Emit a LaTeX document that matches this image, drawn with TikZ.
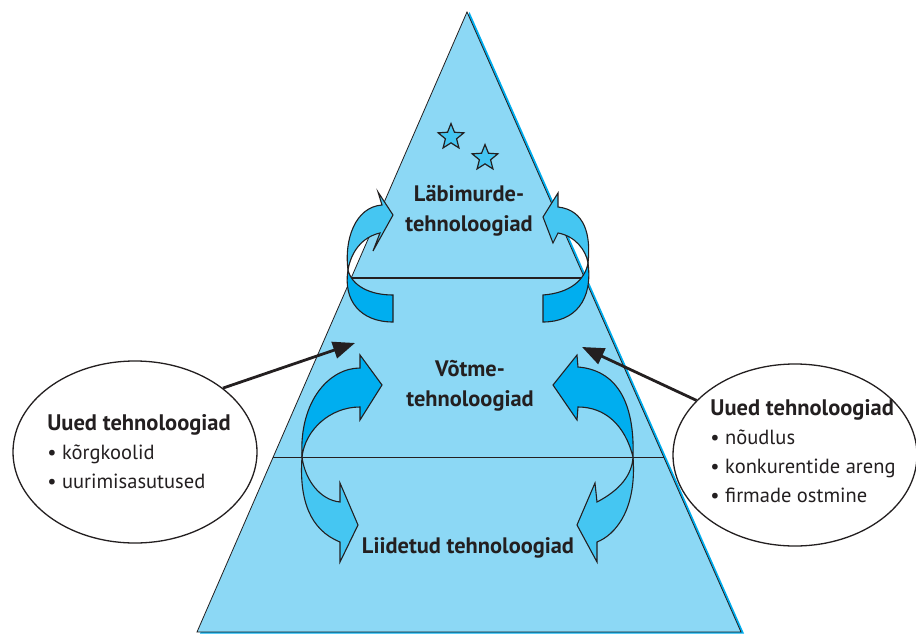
\documentclass[tikz,border=0pt]{standalone}
\usepackage{fontspec}
\setmainfont{PT Sans}
\usetikzlibrary{shapes.geometric,arrows.meta,calc}
\definecolor{pyrfill}{HTML}{8CD8F5}
\definecolor{bandlight}{HTML}{45C6F2}
\definecolor{banddark}{HTML}{00AEEF}
\definecolor{inkgray}{HTML}{231F20}
\newcommand{\bubblehead}[1]{{\bfseries\fontsize{22.5}{29}\selectfont #1}}

\begin{document}
\begin{tikzpicture}
[x=1pt,y=-1pt,
  bubbledecorate/.style={shape=ellipse,draw=inkgray,line width=1.3pt,fill=white,%
    minimum width=244pt,minimum height=182pt,inner sep=0pt},%
  bubbletext/.style={align=left,font=\fontsize{20.5}{29}\selectfont,text=inkgray},%
  leveltext/.style={align=center,font=\bfseries\fontsize{22.4}{29.5}\selectfont,text=inkgray},%
  stardecorate/.style={shape=star,star points=5,star point ratio=2.3,minimum size=27pt,%
    inner sep=0pt,draw=inkgray,line width=1.2pt,fill=bandlight},%
  darkband/.style={fill=banddark,draw=inkgray,line width=1.1pt},%
  lightband/.style={fill=bandlight,draw=inkgray,line width=1.1pt},%
  pointer/.style={draw=inkgray,line width=2.8pt,-{Triangle[length=22pt,width=17pt]}}]
\useasboundingbox (0,0) rectangle (916,634);
%% pyramid
\coordinate (apex) at (467,12);
\coordinate (baseleft) at (197,632);
\coordinate (baseright) at (741,632);
\fill[banddark] ($(apex)+(2.5,0)$) -- ($(baseright)+(3,1.5)$) -- ($(baseleft)+(3,1.5)$) -- cycle;
\filldraw[fill=pyrfill,draw=inkgray,line width=0.8pt] (apex) -- (baseright) -- (baseleft) -- cycle;
\foreach \t in {0.429,0.719}
{
  \draw[inkgray,line width=1.3pt] ($(apex)!\t!(baseleft)$) -- ($(apex)!\t!(baseright)$);
}
%% stars
\foreach \nodename/\x/\y in {starone/451/137, startwo/485/158}
{
  \node (\nodename) at (\x,\y) [stardecorate] {};
}
%% twisted arrows, top
\path[lightband] (348,270) .. controls (344,240) and (355,207) .. (382,205) -- (378,192)
  -- (393,215) -- (373,251) -- (380,233) .. controls (362,237) and (351,252) .. cycle;
\path[darkband] (348,270) .. controls (343,300) and (360,322) .. (393,322) -- (393,295)
  .. controls (370,295) and (352,286) .. cycle;
\path[lightband] (588,263) .. controls (591,235) and (585,210) .. (558,207) -- (558,193)
  -- (543,217) -- (553,243) -- (558,233) .. controls (575,236) and (586,250) .. cycle;
\path[darkband] (588,263) .. controls (593,300) and (575,322) .. (543,322) -- (543,295)
  .. controls (570,293) and (585,280) .. cycle;
%% twisted arrows, bottom
\path[darkband] (302,457) .. controls (299,400) and (330,368) .. (360,368) -- (360,355)
  -- (382,385) -- (360,420) -- (360,407) .. controls (330,407) and (305,430) .. cycle;
\path[lightband] (302,457) .. controls (305,480) and (320,500) .. (340,502) -- (340,483)
  -- (358,525) -- (340,562) -- (340,542) .. controls (310,530) and (299,500) .. cycle;
\path[darkband] (633,457) .. controls (635,400) and (615,370) .. (578,367) -- (577,355)
  -- (553,385) -- (577,420) -- (578,407) .. controls (605,407) and (625,425) .. cycle;
\path[lightband] (633,457) .. controls (637,510) and (615,535) .. (597,542) -- (597,562)
  -- (577,525) -- (595,483) -- (597,502) .. controls (620,490) and (632,475) .. cycle;
%% level names
\node (toplevel) at (469,211) [leveltext] {Läbimurde-\\tehnoloogiad};
\node (midlevel) at (470,386) [leveltext] {Võtme-\\tehnoloogiad};
\node (baselevel) at (468,548) [leveltext] {Liidetud tehnoloogiad};
%% sources
\node (leftbubble) at (135,452) [bubbledecorate] {};
\node (rightbubble) at (795,455) [bubbledecorate] {};
\node (lefttext) at (139,452) [bubbletext]
  {\bubblehead{Uued tehnoloogiad}\\\textbullet\ kõrgkoolid\\\textbullet\ uurimisasutused};
\node (righttext) at (803,451) [bubbletext]
  {\bubblehead{Uued tehnoloogiad}\\\textbullet\ nõudlus\\\textbullet\ konkurentide areng\\\textbullet\ firmade ostmine};
\coordinate (leftaim) at (355,343);
\coordinate (rightaim) at (582,347);
\draw[pointer] (leftbubble.36) -- (leftaim);
\draw[pointer] (rightbubble.151) -- (rightaim);
\end{tikzpicture}
\end{document}
